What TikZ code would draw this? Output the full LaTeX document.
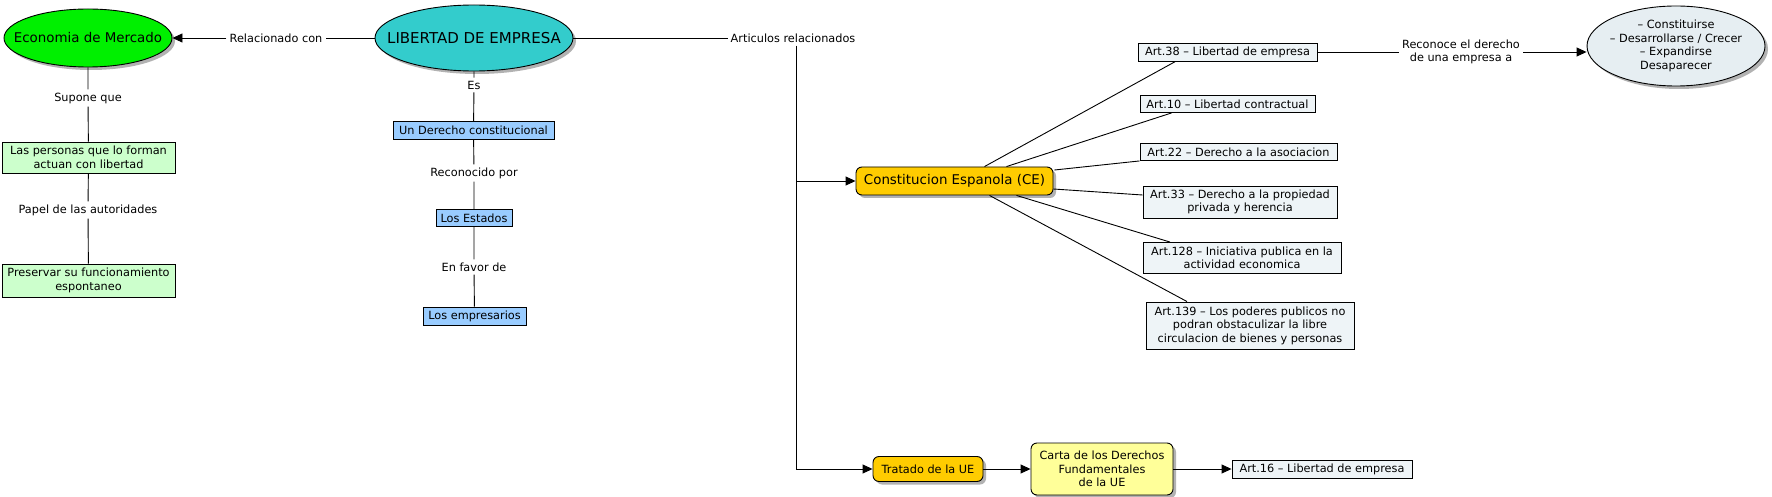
\documentclass[tikz,border=0pt]{standalone}
\usepackage{fontspec}
\setmainfont{DejaVu Sans}
\usetikzlibrary{shapes.geometric,arrows.meta,shadows,calc}
\definecolor{ecogreen}{HTML}{00F000}
\definecolor{libteal}{HTML}{33CCCC}
\definecolor{lgreen}{HTML}{CCFFCC}
\definecolor{lblue}{HTML}{99CCFF}
\definecolor{gold}{HTML}{FFCC00}
\definecolor{lyellow}{HTML}{FFFF99}
\definecolor{artfill}{HTML}{EEF4F7}
\definecolor{ovalfill}{HTML}{E6EEF2}
\tikzset{
  sm/.style={font=\fontsize{11.3}{13.5}\selectfont},
  lbl/.style={sm, inner sep=3pt, align=center},
  shad/.style={drop shadow={shadow xshift=3pt, shadow yshift=-3pt, fill=black!60, opacity=0.5}},
  oval/.style={ellipse, draw, line width=0.9pt, inner xsep=-30pt, inner ysep=0pt, align=center, shad},
  sqbox/.style={rectangle, draw, line width=0.9pt, inner sep=0pt, align=center, sm},
  rbox/.style={rectangle, rounded corners=6pt, draw, line width=0.9pt, inner sep=0pt, align=center, shad},
  link/.style={line width=0.9pt},
  arr/.style={line width=0.9pt, -{Triangle[length=10pt,width=9pt]}},
}
\begin{document}
\begin{tikzpicture}[x=1pt,y=-1pt]
\fill[white] (0,0) rectangle (1772,497);
\useasboundingbox (0,0) rectangle (1772,497);

\node[oval, fill=ecogreen, minimum width=168pt, minimum height=58pt, font=\fontsize{13.4}{16}\selectfont] (eco) at (88,38) {Economia de Mercado};
\node[oval, fill=libteal, minimum width=198pt, minimum height=66pt, font=\fontsize{15}{18}\selectfont] (lib) at (474,38) {LIBERTAD DE EMPRESA};
\node[lbl] (rel) at (276,38) {Relacionado con};
\node[lbl] (sup) at (88,98) {Supone que};
\node[sqbox, fill=lgreen, minimum width=173pt, minimum height=31pt] (per) at (88.5,157.5) {Las personas que lo forman\\actuan con libertad};
\node[lbl] (pap) at (88,210) {Papel de las autoridades};
\node[sqbox, fill=lgreen, minimum width=173pt, minimum height=33pt] (pre) at (88.5,280.5) {Preservar su funcionamiento\\espontaneo};
\node[lbl] (es) at (474,85) {Es};
\node[sqbox, fill=lblue, minimum width=161pt, minimum height=18pt] (der) at (473.5,130.5) {Un Derecho constitucional};
\node[lbl] (rec) at (474,173) {Reconocido por};
\node[sqbox, fill=lblue, minimum width=76pt, minimum height=17pt] (est) at (474,218) {Los Estados};
\node[lbl] (fav) at (474,267) {En favor de};
\node[sqbox, fill=lblue, minimum width=103pt, minimum height=18pt] (emp) at (474.5,316) {Los empresarios};
\node[lbl] (art) at (793,38) {Articulos relacionados};
\node[rbox, fill=gold, minimum width=197pt, minimum height=28pt, font=\fontsize{13.4}{16}\selectfont] (ce) at (954.5,181) {Constitucion Espanola (CE)};
\node[sqbox, fill=artfill, minimum width=179pt, minimum height=18pt] (a38) at (1227.5,52) {Art.38 – Libertad de empresa};
\node[sqbox, fill=artfill, minimum width=175pt, minimum height=17pt] (a10) at (1227.5,104) {Art.10 – Libertad contractual};
\node[sqbox, fill=artfill, minimum width=197pt, minimum height=17pt] (a22) at (1238.5,152) {Art.22 – Derecho a la asociacion};
\node[sqbox, fill=artfill, minimum width=194pt, minimum height=32pt] (a33) at (1240,202) {Art.33 – Derecho a la propiedad\\privada y herencia};
\node[sqbox, fill=artfill, minimum width=198pt, minimum height=31pt] (a128) at (1242,258) {Art.128 – Iniciativa publica en la\\actividad economica};
\node[sqbox, fill=artfill, minimum width=208pt, minimum height=47pt] (a139) at (1250,325.5) {Art.139 – Los poderes publicos no\\podran obstaculizar la libre\\circulacion de bienes y personas};
\node[lbl] (rcd) at (1461,52) {Reconoce el derecho\\de una empresa a};
\node[oval, fill=ovalfill, minimum width=178pt, minimum height=80pt, sm] (acts) at (1676,46) {– Constituirse\\– Desarrollarse / Crecer\\– Expandirse\\Desaparecer};
\node[rbox, fill=gold, minimum width=110pt, minimum height=25pt, sm] (tue) at (928,469) {Tratado de la UE};
\node[rbox, fill=lyellow, minimum width=142pt, minimum height=52pt, sm] (carta) at (1102,469) {Carta de los Derechos\\Fundamentales\\de la UE};
\node[sqbox, fill=artfill, minimum width=180pt, minimum height=18pt] (a16) at (1322,469) {Art.16 – Libertad de empresa};

\draw[link] (lib) -- (rel);
\draw[arr] (rel) -- (eco);
\draw[link] (eco) -- (sup) -- (per) -- (pap) -- (pre);
\draw[link] (lib) -- (es) -- (der) -- (rec) -- (est) -- (fav) -- (emp);
\draw[link] (lib) -- (art);
\coordinate (j1) at (796,181);
\coordinate (j2) at (796,469);
\draw[arr] (art.south -| j1) -- (j2) -- (tue);
\draw[arr] (j1) -- (ce);
\draw[link] ($(ce.north)+(30,0)$) -- ($(a38.south)+(-52,0)$);
\draw[link] ($(ce.north)+(52,0)$) -- ($(a10.south)+(-56,0)$);
\draw[link] ($(ce.east)+(1,-11)$) -- (a22.south west);
\draw[link] ($(ce.east)+(0,8)$) -- ($(a33.west)+(0,-7)$);
\draw[link] ($(ce.south)+(62,0)$) -- ($(a128.north)+(-72,0)$);
\draw[link] ($(ce.south)+(35,0)$) -- ($(a139.north)+(-63,0)$);
\draw[link] (a38) -- (rcd);
\draw[arr] (rcd.east) -- (rcd.east -| acts.west);
\draw[arr] (tue) -- (carta);
\draw[arr] (carta) -- (a16);
\end{tikzpicture}
\end{document}
